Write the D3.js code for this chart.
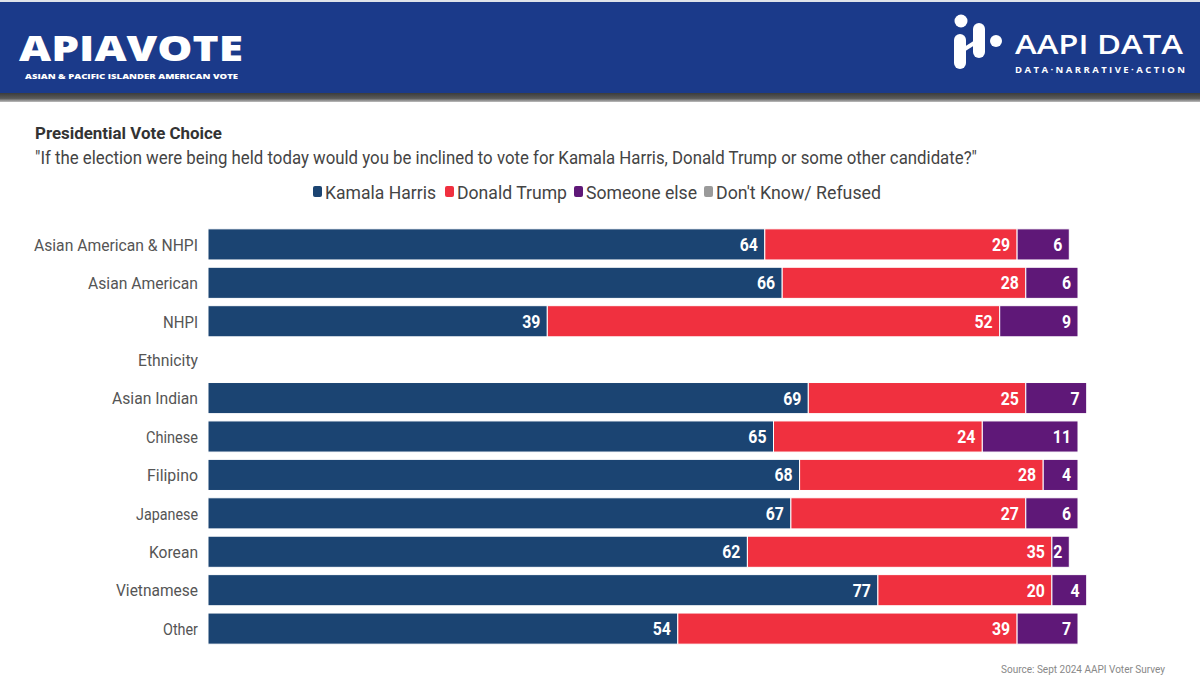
<!DOCTYPE html>
<html><head><meta charset="utf-8">
<script src="https://cdn.jsdelivr.net/npm/d3@7"></script>
<style>
html,body{margin:0;padding:0;background:#fff;}
svg{display:block;font-family:Roboto,"Noto Sans",sans-serif;}
</style></head>
<body>
<svg id="chart" width="1200" height="676"></svg>
<script>
const categories = ["Asian American & NHPI","Asian American","NHPI","Ethnicity","Asian Indian","Chinese","Filipino","Japanese","Korean","Vietnamese","Other"];
const harris  = [64,66,39,null,69,65,68,67,62,77,54];
const trump   = [29,28,52,null,25,24,28,27,35,20,39];
const someone = [6,6,9,null,7,11,4,6,2,4,7];
const dontKnow = [0,0,0,null,0,0,0,0,0,0,0];
const seriesNames = ["Kamala Harris","Donald Trump","Someone else","Don't Know/ Refused"];
const seriesColors = ["#1b4472","#f0303f","#5f1878","#9a9a9a"];
const title = "Presidential Vote Choice";
const subtitle = "\"If the election were being held today would you be inclined to vote for Kamala Harris, Donald Trump or some other candidate?\"";
const source = "Source: Sept 2024 AAPI Voter Survey";

const svg = d3.select("#chart");

// Header
const defs = svg.append("defs");
const g1 = defs.append("linearGradient").attr("id","shade").attr("x1",0).attr("x2",0).attr("y1",0).attr("y2",1);
g1.append("stop").attr("offset","0%").attr("stop-color","#3c3c3c");
g1.append("stop").attr("offset","60%").attr("stop-color","#5a5a5a");
g1.append("stop").attr("offset","100%").attr("stop-color","#bdbdbd");
svg.append("rect").attr("x",0).attr("y",0).attr("width",1200).attr("height",93).attr("fill","#1b3a8a");
svg.append("rect").attr("x",0).attr("y",93).attr("width",1200).attr("height",9).attr("fill","url(#shade)");
svg.append("rect").attr("x",0).attr("y",0).attr("width",1200).attr("height",2).attr("fill","#dfe3ea");

// APIAVOTE logo
svg.append("text").attr("x",19).attr("y",61).attr("fill","#fff")
  .attr("font-family","'Open Sans',Lato,sans-serif").attr("font-weight",800).attr("font-size",36)
  .attr("textLength",224).attr("lengthAdjust","spacingAndGlyphs")
  .text("APIAVOTE");
svg.append("text").attr("x",25).attr("y",79).attr("fill","#fff")
  .attr("font-family","'Open Sans',Lato,sans-serif").attr("font-weight",800).attr("font-size",7.5)
  .attr("textLength",213).attr("lengthAdjust","spacingAndGlyphs")
  .text("ASIAN & PACIFIC ISLANDER AMERICAN VOTE");

// AAPI DATA logo icon
const ic = svg.append("g").attr("fill","#fff").attr("stroke","#fff");
ic.append("circle").attr("cx",961).attr("cy",21).attr("r",6.5).attr("stroke","none");
ic.append("line").attr("x1",960).attr("y1",40).attr("x2",960).attr("y2",63).attr("stroke-width",12).attr("stroke-linecap","round");
ic.append("line").attr("x1",979).attr("y1",29).attr("x2",979).attr("y2",52).attr("stroke-width",12).attr("stroke-linecap","round");
ic.append("line").attr("x1",960).attr("y1",52).attr("x2",979).attr("y2",40).attr("stroke-width",4);
ic.append("circle").attr("cx",996).attr("cy",41).attr("r",6).attr("stroke","none");
svg.append("text").attr("x",1015).attr("y",54).attr("fill","#fff")
  .attr("font-family","'Open Sans',sans-serif").attr("font-weight",600).attr("font-size",27)
  .attr("textLength",168).attr("lengthAdjust","spacingAndGlyphs").text("AAPI DATA");
svg.append("text").attr("x",1015).attr("y",73).attr("fill","#fff")
  .attr("font-family","'Open Sans',sans-serif").attr("font-weight",700).attr("font-size",9.5)
  .attr("textLength",170).attr("lengthAdjust","spacing").text("DATA·NARRATIVE·ACTION");

// Titles
svg.append("text").attr("x",35).attr("y",139).attr("fill","#333").attr("font-weight",700).attr("font-size",16.5)
  .attr("textLength",187).attr("lengthAdjust","spacingAndGlyphs").text(title);
svg.append("text").attr("x",35).attr("y",164).attr("fill","#444").attr("font-size",17.5)
  .attr("textLength",942).attr("lengthAdjust","spacingAndGlyphs").text(subtitle);

// Legend
const legendX = [313,445,574,704];
const legendW = [111,110,111,165];
const lg = svg.append("g");
seriesNames.forEach((n,i)=>{
  lg.append("rect").attr("x",legendX[i]).attr("y",186).attr("width",9).attr("height",11).attr("rx",2).attr("fill",seriesColors[i]);
  lg.append("text").attr("x",legendX[i]+12).attr("y",199).attr("fill","#444").attr("font-size",17.5)
    .attr("textLength",legendW[i]).attr("lengthAdjust","spacingAndGlyphs").text(n);
});

// Chart
const x = d3.scaleLinear().domain([0,100]).range([208,1078]);
const y = d3.scaleBand().domain(categories).range([225,648]).paddingInner(0.19).paddingOuter(0.1);

const rows = categories.map((c,i)=>({cat:c, vals:[harris[i],trump[i],someone[i],dontKnow[i]]}));

const yAxis = d3.axisLeft(y).tickSize(0).tickPadding(10);
const ag = svg.append("g").attr("transform","translate(198,1)").call(yAxis);
ag.select(".domain").remove();
ag.selectAll("text").attr("fill","#555").attr("font-size",16.5).attr("font-family","Roboto,sans-serif")
  .attr("dx",0).attr("x",0)
  .each(function(d){
    const widths = {"Asian American & NHPI":164,"Asian American":110,"NHPI":35,"Ethnicity":60,"Asian Indian":86,"Chinese":52,"Filipino":51,"Japanese":62,"Korean":49,"Vietnamese":82,"Other":35};
    d3.select(this).attr("textLength",widths[d]).attr("lengthAdjust","spacingAndGlyphs");
  });

const segs = [];
rows.forEach(r=>{
  if(r.vals[0]==null) return;
  let acc = 0;
  r.vals.forEach((v,k)=>{
    if(v>0) segs.push({cat:r.cat, k, v, x0:acc, x1:acc+v});
    acc += v;
  });
});

const bg = svg.append("g");
bg.selectAll("rect").data(segs).join("rect")
  .attr("x",d=>x(d.x0)).attr("width",d=>x(d.x1)-x(d.x0))
  .attr("y",d=>y(d.cat)).attr("height",y.bandwidth())
  .attr("fill",d=>seriesColors[d.k]).attr("stroke","#fff").attr("stroke-width",1);

bg.selectAll("text").data(segs).join("text")
  .attr("x",d=>x(d.x1)-7).attr("y",d=>y(d.cat)+y.bandwidth()/2+6.5)
  .attr("text-anchor","end").attr("fill","#fff").attr("font-weight",700).attr("font-size",18)
  .attr("transform",d=>`translate(${x(d.x1)-7},0) scale(0.88,1) translate(${-(x(d.x1)-7)},0)`)
  .text(d=>d.v);

// Source
svg.append("text").attr("x",1165).attr("y",673).attr("text-anchor","end").attr("fill","#888").attr("font-size",10).text(source);
</script>
</body></html>
